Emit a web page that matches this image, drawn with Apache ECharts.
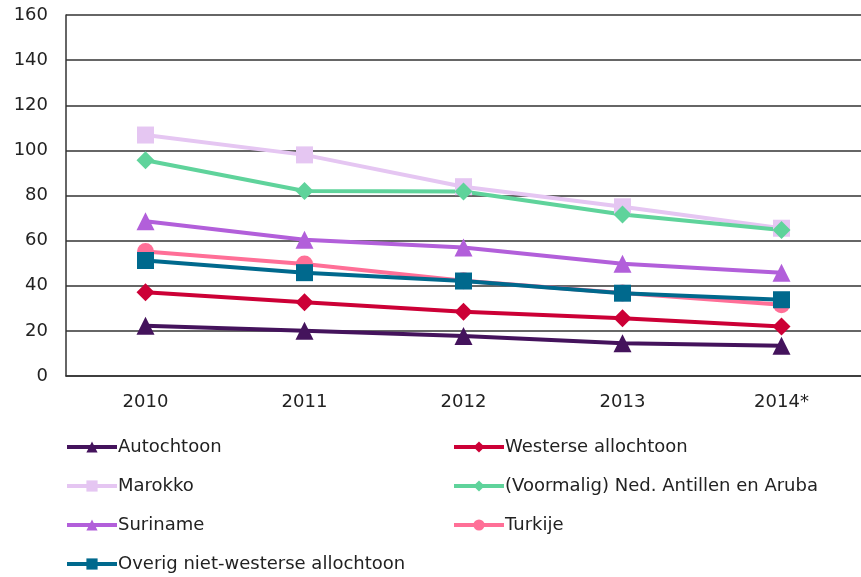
<!DOCTYPE html>
<html>
<head>
<meta charset="utf-8">
<script src="https://cdn.jsdelivr.net/npm/echarts@6/dist/echarts.min.js"></script>
<style>
  html, body { margin: 0; padding: 0; background: #fff; }
  #chart { width: 861px; height: 577px; }
</style>
</head>
<body>
<div id="chart"></div>
<script>
const years = ['2010', '2011', '2012', '2013', '2014*'];

const autochtoon = [22.3, 20.1, 17.7, 14.5, 13.4];
const westerse = [37.1, 32.7, 28.5, 25.6, 21.9];
const marokko = [106.8, 98, 83.9, 75, 65.5];
const antillen = [95.6, 82, 81.8, 71.6, 64.7];
const suriname = [68.6, 60.4, 57, 49.8, 45.8];
const turkije = [55.2, 49.6, 42.2, 36.8, 31.6];
const overig = [51.2, 45.8, 42.1, 36.7, 33.8];

const yTicks = { min: 0, max: 160, interval: 20 };

const font = 'DejaVu Sans';

const makeSeries = (name, data, color, symbol, size) => ({
  name: name,
  type: 'line',
  data: data,
  symbol: symbol,
  symbolSize: size,
  showSymbol: true,
  lineStyle: { color: color, width: 4 },
  itemStyle: { color: color },
  emphasis: { disabled: true },
  animation: false
});

// two legend columns, like the original
const legendBase = {
  orient: 'vertical',
  top: 438,
  padding: 0,
  itemWidth: 50,
  itemHeight: 14,
  itemGap: 21,
  lineStyle: { width: 4 },
  textStyle: { color: '#222', fontSize: 18, fontFamily: font, padding: [0, 0, 0, -4] }
};

const myChart = echarts.init(document.getElementById('chart'));

const option = {
  backgroundColor: '#ffffff',
  grid: { left: 66, top: 15, width: 800, bottom: 201, containLabel: false },
  xAxis: {
    type: 'category',
    data: years,
    boundaryGap: true,
    axisLine: { lineStyle: { color: '#333', width: 1.5 } },
    axisTick: { show: false },
    axisLabel: { color: '#222', fontSize: 18, fontFamily: font, margin: 17 }
  },
  yAxis: {
    type: 'value',
    min: yTicks.min,
    max: yTicks.max,
    interval: yTicks.interval,
    axisLine: { show: true, lineStyle: { color: '#333', width: 1.5 } },
    axisTick: { show: false },
    splitLine: { lineStyle: { color: '#333', width: 1.5 } },
    axisLabel: { color: '#222', fontSize: 18, fontFamily: font, margin: 18 }
  },
  legend: [
    Object.assign({}, legendBase, {
      left: 65,
      data: ['Autochtoon', 'Marokko', 'Suriname', 'Overig niet-westerse allochtoon']
    }),
    Object.assign({}, legendBase, {
      left: 452,
      data: ['Westerse allochtoon', '(Voormalig) Ned. Antillen en Aruba', 'Turkije']
    })
  ],
  series: [
    makeSeries('Autochtoon', autochtoon, '#44135c', 'triangle', 18),
    makeSeries('Westerse allochtoon', westerse, '#cc0036', 'diamond', 18),
    makeSeries('Marokko', marokko, '#e5c6f2', 'rect', 17),
    makeSeries('(Voormalig) Ned. Antillen en Aruba', antillen, '#5fd39b', 'diamond', 18),
    makeSeries('Suriname', suriname, '#b25fda', 'triangle', 18),
    makeSeries('Turkije', turkije, '#ff6f97', 'circle', 17),
    makeSeries('Overig niet-westerse allochtoon', overig, '#00698d', 'rect', 17)
  ]
};

myChart.setOption(option);
</script>
</body>
</html>
